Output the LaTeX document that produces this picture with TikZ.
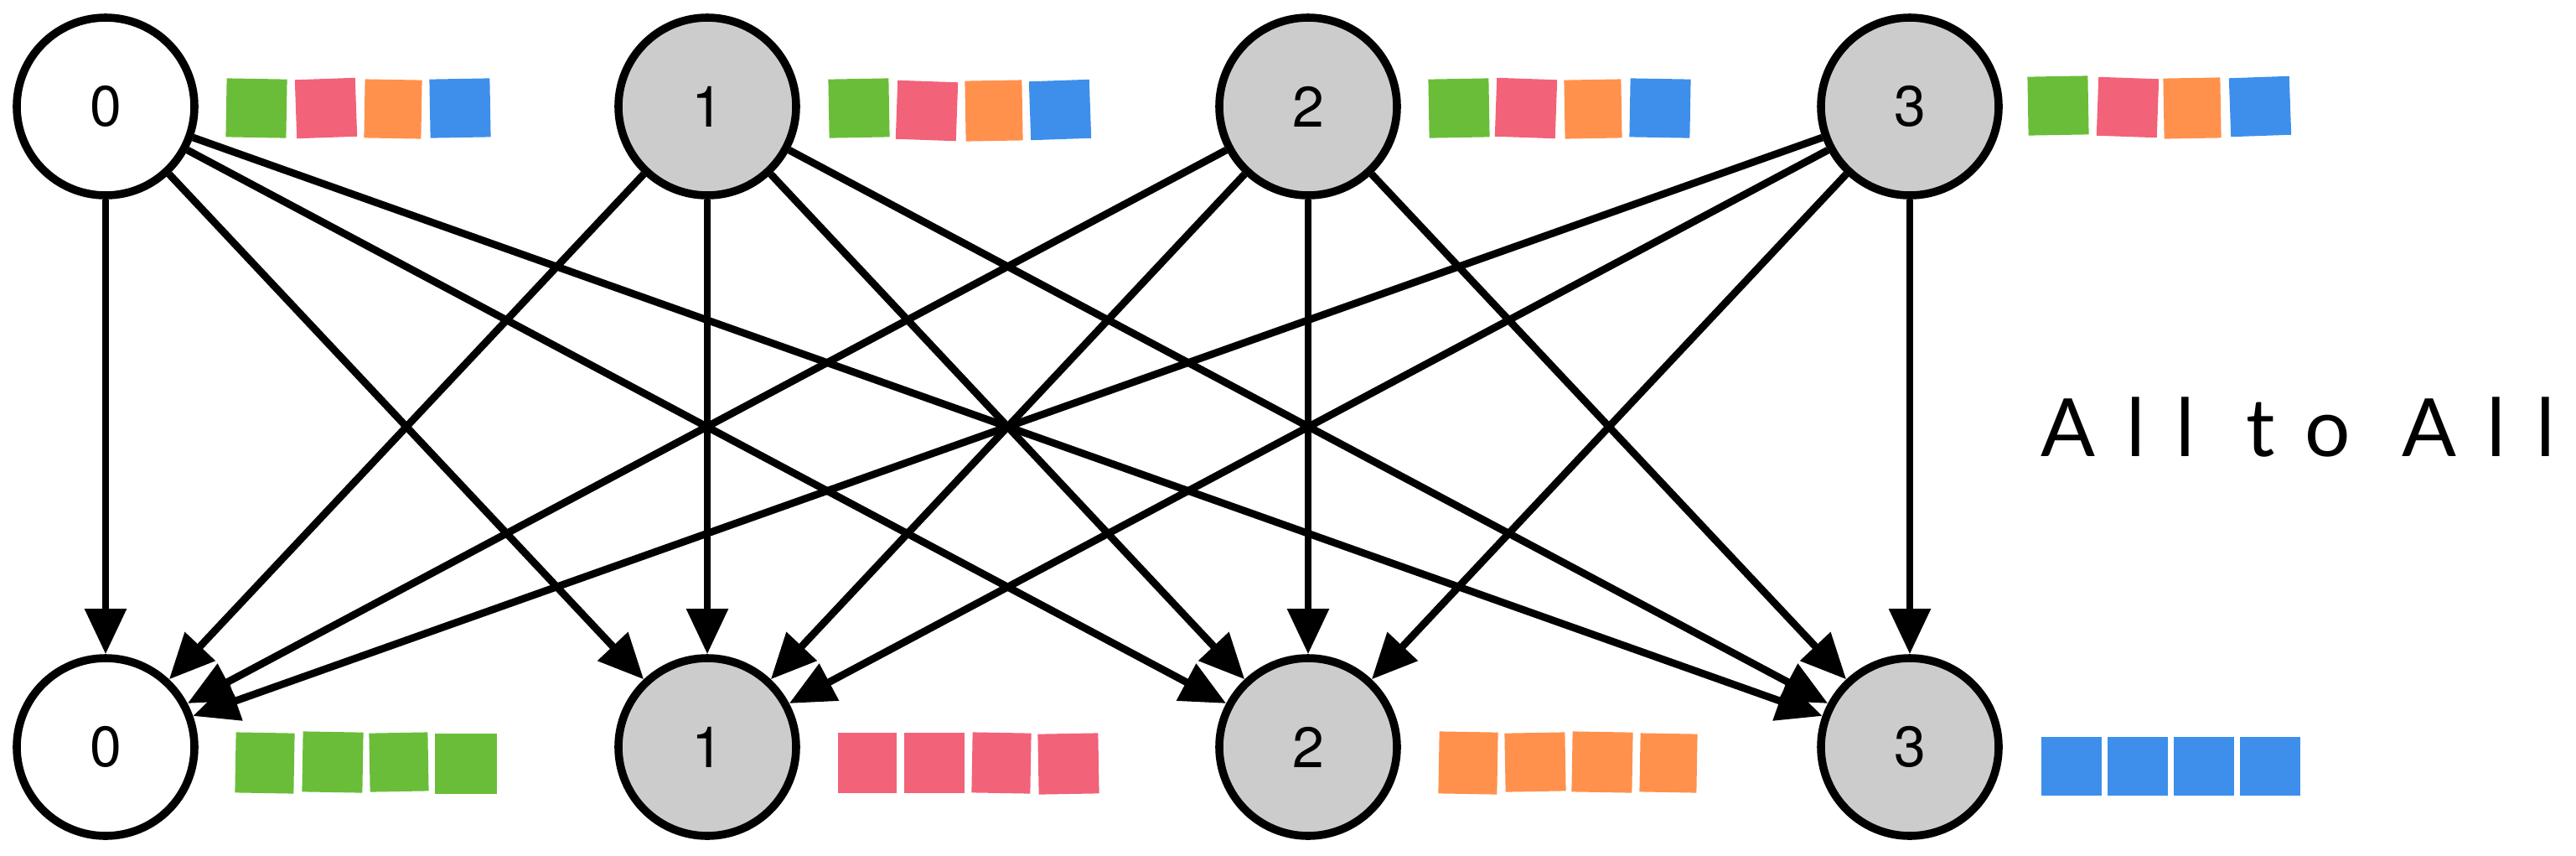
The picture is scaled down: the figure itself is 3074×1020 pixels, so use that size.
\documentclass[tikz,border=0pt]{standalone}
\usepackage{fontspec}
\setmainfont{TeX Gyre Heros}
\newfontfamily\notefont[LetterSpace=38]{Lato}
\usetikzlibrary{arrows.meta}

\definecolor{chunkgreen}{RGB}{106,189,56}
\definecolor{chunkpink}{RGB}{242,98,121}
\definecolor{chunkorange}{RGB}{255,145,77}
\definecolor{chunkblue}{RGB}{61,143,235}
\definecolor{rankgray}{RGB}{204,204,204}

\tikzset{
  rank/.style={circle, draw=black, line width=2.4pt, minimum size=53pt, inner sep=0pt, font=\fontsize{17}{20}\selectfont},
  link/.style={line width=2.2pt, -{Triangle[width=12pt,length=13.5pt]}},
}

\begin{document}
\begin{tikzpicture}[x=0.25pt,y=0.25pt,yscale=-1,xscale=1]
\useasboundingbox (0,0) rectangle (3074,1020);

%Ranks before
\node [rank, fill=white] (t0) at (126,127) {0};
\node [rank, fill=rankgray] (t1) at (844,127) {1};
\node [rank, fill=rankgray] (t2) at (1561,127) {2};
\node [rank, fill=rankgray] (t3) at (2279,127) {3};
%Ranks after
\node [rank, fill=white] (b0) at (126,891) {0};
\node [rank, fill=rankgray] (b1) at (844,891) {1};
\node [rank, fill=rankgray] (b2) at (1561,891) {2};
\node [rank, fill=rankgray] (b3) at (2279,891) {3};

%Straight Lines from rank 0
\draw [link] (t0) -- (b0);
\draw [link] (t0) -- (b1);
\draw [link] (t0) -- (b2);
\draw [link] (t0) -- (b3);
%Straight Lines from rank 1
\draw [link] (t1) -- (b0);
\draw [link] (t1) -- (b1);
\draw [link] (t1) -- (b2);
\draw [link] (t1) -- (b3);
%Straight Lines from rank 2
\draw [link] (t2) -- (b0);
\draw [link] (t2) -- (b1);
\draw [link] (t2) -- (b2);
\draw [link] (t2) -- (b3);
%Straight Lines from rank 3
\draw [link] (t3) -- (b0);
\draw [link] (t3) -- (b1);
\draw [link] (t3) -- (b2);
\draw [link] (t3) -- (b3);

%Shape: Chunks of rank 0
\fill [chunkgreen, shift={(306,129)}, rotate=1] (-36,-35) rectangle (36,35);
\fill [chunkpink, shift={(389,129)}, rotate=-2] (-36,-35) rectangle (36,35);
\fill [chunkorange, shift={(469,130)}, rotate=1] (-34,-35) rectangle (34,35);
\fill [chunkblue, shift={(549,129)}, rotate=-1] (-36,-35) rectangle (36,35);
%Shape: Chunks of rank 1
\fill [chunkgreen, shift={(1025,129)}, rotate=-1] (-36,-35) rectangle (36,35);
\fill [chunkpink, shift={(1106,132)}, rotate=2] (-36,-35) rectangle (36,35);
\fill [chunkorange, shift={(1186,132)}, rotate=-1] (-34,-36) rectangle (34,36);
\fill [chunkblue, shift={(1265,131)}, rotate=-2] (-36,-35) rectangle (36,35);
%Shape: Chunks of rank 2
\fill [chunkgreen, shift={(1741,129)}, rotate=-1] (-36,-35) rectangle (36,35);
\fill [chunkpink, shift={(1821,129)}, rotate=2] (-36,-35) rectangle (36,35);
\fill [chunkorange, shift={(1901,130)}, rotate=-1] (-34,-35) rectangle (34,35);
\fill [chunkblue, shift={(1981,129)}, rotate=1] (-36,-35) rectangle (36,35);
%Shape: Chunks of rank 3
\fill [chunkgreen, shift={(2456,126)}, rotate=-1] (-36,-35) rectangle (36,35);
\fill [chunkpink, shift={(2539,128)}, rotate=2] (-36,-35) rectangle (36,35);
\fill [chunkorange, shift={(2616,129)}, rotate=-1] (-34,-36) rectangle (34,36);
\fill [chunkblue, shift={(2697,127)}, rotate=-2] (-36,-35) rectangle (36,35);

%Shape: Chunks gathered on rank 0
\fill [chunkgreen, shift={(316,910)}, rotate=1] (-35,-36) rectangle (35,36);
\fill [chunkgreen, shift={(397,909)}, rotate=1] (-36,-36) rectangle (36,36);
\fill [chunkgreen, shift={(476,909)}, rotate=-1] (-35,-35) rectangle (35,35);
\fill [chunkgreen, shift={(556,911)}, rotate=0] (-37,-36) rectangle (37,36);
%Shape: Chunks gathered on rank 1
\fill [chunkpink, shift={(1035,910)}, rotate=0] (-35,-36) rectangle (35,36);
\fill [chunkpink, shift={(1115,910)}, rotate=0] (-36,-36) rectangle (36,36);
\fill [chunkpink, shift={(1195,910)}, rotate=1] (-35,-36) rectangle (35,36);
\fill [chunkpink, shift={(1275,911)}, rotate=-1] (-36,-36) rectangle (36,36);
%Shape: Chunks gathered on rank 2
\fill [chunkorange, shift={(1752,910)}, rotate=1] (-35,-37) rectangle (35,37);
\fill [chunkorange, shift={(1832,909)}, rotate=-1] (-36,-35) rectangle (36,35);
\fill [chunkorange, shift={(1912,909)}, rotate=1] (-36,-36) rectangle (36,36);
\fill [chunkorange, shift={(1991,910)}, rotate=1] (-34,-35) rectangle (34,35);
%Shape: Chunks gathered on rank 3
\fill [chunkblue, shift={(2472,914)}] (-36,-35) rectangle (36,35);
\fill [chunkblue, shift={(2551,914)}] (-36,-35) rectangle (36,35);
\fill [chunkblue, shift={(2630,914)}] (-36,-35) rectangle (36,35);
\fill [chunkblue, shift={(2709,914)}] (-36,-35) rectangle (36,35);

% Text Node
\node [anchor=east, inner sep=0pt, font=\notefont\fontsize{24}{28}\selectfont] (caption) at (3050,510) {All to All};

\end{tikzpicture}
\end{document}
